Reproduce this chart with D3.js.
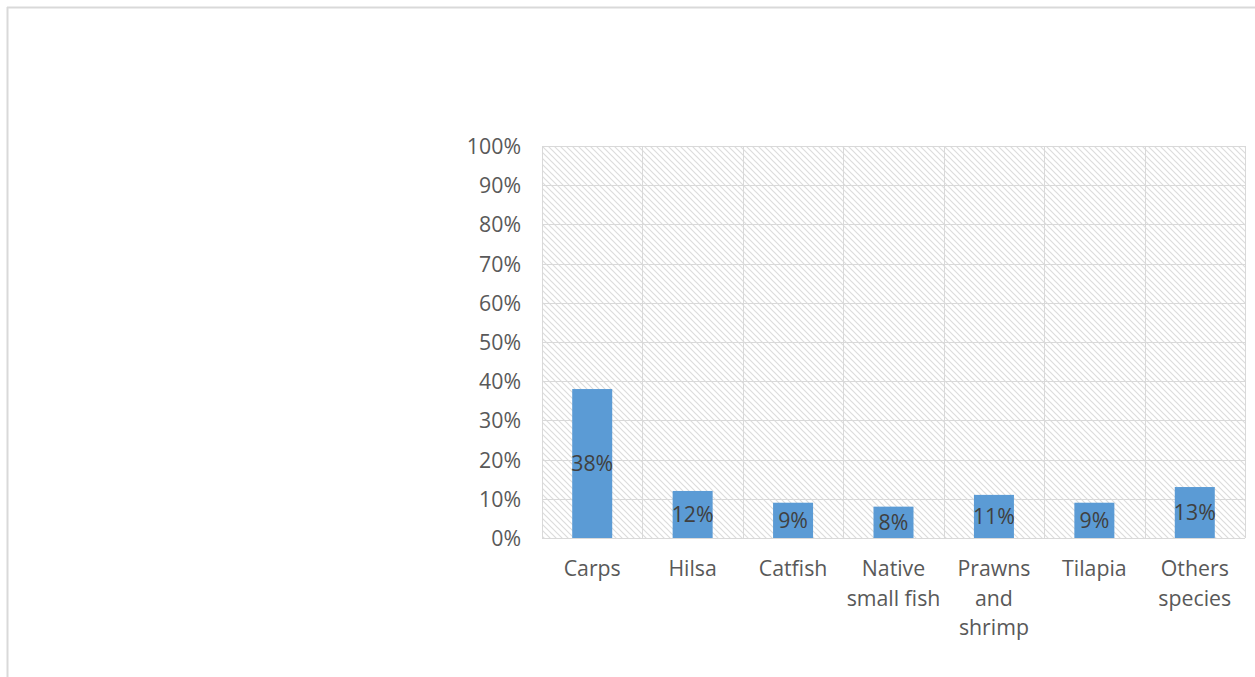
<!DOCTYPE html>
<html><head><meta charset="utf-8">
<script src="https://cdn.jsdelivr.net/npm/d3@7"></script>
<style>body{margin:0;background:#fff}svg{display:block}</style>
</head><body>
<script>
const categories = ["Carps","Hilsa","Catfish","Native small fish","Prawns and shrimp","Tilapia","Others species"];
const categoryLines = [["Carps"],["Hilsa"],["Catfish"],["Native","small fish"],["Prawns","and","shrimp"],["Tilapia"],["Others","species"]];
const values = [0.38,0.12,0.09,0.08,0.11,0.09,0.13];
const tickValues = [0,0.1,0.2,0.3,0.4,0.5,0.6,0.7,0.8,0.9,1.0];

const W=1255,H=677;
const svg=d3.select("body").append("svg").attr("width",W).attr("height",H);
const font="'Open Sans', 'Noto Sans', sans-serif";
const fs=21.3;

// outer frame (top + left)
svg.append("line").attr("x1",7).attr("x2",W).attr("y1",7.5).attr("y2",7.5).attr("stroke","#d9d9d9").attr("stroke-width",2);
svg.append("line").attr("x1",7.5).attr("x2",7.5).attr("y1",7).attr("y2",H).attr("stroke","#d9d9d9").attr("stroke-width",2);

const defs=svg.append("defs");
const pat=defs.append("pattern").attr("id","hatch").attr("patternUnits","userSpaceOnUse").attr("width",6).attr("height",6);
pat.append("path").attr("d","M-1,-1 L7,7 M-1,5 L1,7 M5,-1 L7,1").attr("stroke","#dcdcdc").attr("stroke-width",1.2);

const x0=542,x1=1245,y0=538,y1=146;
const x=d3.scaleBand().domain(categories).range([x0,x1]).paddingInner(0).paddingOuter(0);
const y=d3.scaleLinear().domain([0,1]).range([y0,y1]);

svg.append("rect").attr("x",x0).attr("y",y1).attr("width",x1-x0).attr("height",y0-y1).attr("fill","url(#hatch)");

// horizontal gridlines
svg.append("g").selectAll("line").data(tickValues).join("line")
 .attr("x1",x0).attr("x2",x1).attr("y1",d=>Math.round(y(d))+0.5).attr("y2",d=>Math.round(y(d))+0.5)
 .attr("stroke","#d9d9d9").attr("stroke-width",1);
// vertical gridlines
const bounds=categories.map(c=>x(c)).concat([x1]);
svg.append("g").selectAll("line").data(bounds).join("line")
 .attr("x1",d=>Math.round(d)+0.5).attr("x2",d=>Math.round(d)+0.5).attr("y1",y1).attr("y2",y0)
 .attr("stroke","#d9d9d9").attr("stroke-width",1);

// y axis labels
const yAxis=d3.axisLeft(y).tickValues(tickValues).tickFormat(d3.format(".0%")).tickSize(0).tickPadding(0);
const ya=svg.append("g").attr("transform",`translate(${x0-21},0)`).call(yAxis);
ya.select(".domain").remove();
ya.selectAll("text").attr("font-family",font).attr("font-size",fs).attr("fill","#595959").attr("dy","0.35em");

// bars
const bw=40;
svg.append("g").selectAll("rect").data(values).join("rect")
 .attr("x",(d,i)=>x(categories[i])+x.bandwidth()/2-bw/2).attr("width",bw)
 .attr("y",d=>y(d)).attr("height",d=>y0-y(d)).attr("fill","#5b9bd5");

// baseline
svg.append("line").attr("x1",x0).attr("x2",x1).attr("y1",y0+0.5).attr("y2",y0+0.5).attr("stroke","#d9d9d9");

// value labels
svg.append("g").selectAll("text").data(values).join("text")
 .attr("x",(d,i)=>x(categories[i])+x.bandwidth()/2)
 .attr("y",d=>(y(d)+y0)/2).attr("dy","0.35em").attr("text-anchor","middle")
 .attr("font-family",font).attr("font-size",fs).attr("fill","#404040")
 .text(d=>d3.format(".0%")(d));

// category labels
const cg=svg.append("g").selectAll("text").data(categoryLines).join("text")
 .attr("text-anchor","middle").attr("font-family",font).attr("font-size",fs).attr("fill","#595959");
cg.each(function(lines,i){
  const t=d3.select(this);
  lines.forEach((l,j)=>t.append("tspan").attr("x",x(categories[i])+x.bandwidth()/2).attr("y",569+j*29.5).attr("dy","0.35em").text(l));
});
</script>
</body></html>
